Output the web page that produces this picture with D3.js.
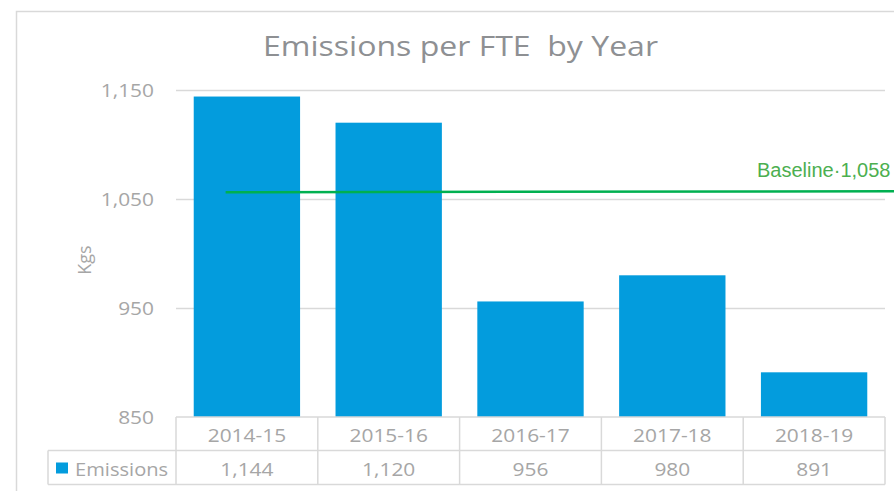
<!DOCTYPE html>
<html>
<head>
<meta charset="utf-8">
<script src="https://cdn.jsdelivr.net/npm/d3@7"></script>
<style>
  body { margin: 0; background: #fff; }
  svg { display: block; }
</style>
</head>
<body>
<svg id="chart" width="894" height="491"></svg>
<script>
// data
var years = ["2014-15", "2015-16", "2016-17", "2017-18", "2018-19"];
var emissions = [1144, 1120, 956, 980, 891];
var baseline = 1058;
var yTicks = [850, 950, 1050, 1150];

var svg = d3.select("#chart"),
    width = +svg.attr("width"),
    height = +svg.attr("height"),
    margin = {top: 90, right: 9, left: 176},
    plotBottom = 417;

var grey = "#a6a6a6",
    lineGrey = "#d9d9d9",
    font = "'Open Sans', 'Noto Sans', sans-serif",
    stretch = 1.1; // the original text is a bit wide

var fmt = d3.format(",");

var x = d3.scaleBand()
    .domain(years)
    .range([margin.left, width - margin.right])
    .paddingInner(0.25)
    .paddingOuter(0.125);

var y = d3.scaleLinear()
    .domain([850, 1150])
    .range([plotBottom, margin.top]);

// outer chart border (runs off the right/bottom edge)
svg.append("rect")
    .attr("x", 16.5).attr("y", 11.5)
    .attr("width", width + 10).attr("height", height + 10)
    .attr("fill", "none")
    .attr("stroke", lineGrey)
    .attr("stroke-width", 1.5);

// title
svg.append("text")
    .attr("x", 263).attr("y", 56)
    .attr("font-family", font)
    .attr("font-size", 28)
    .attr("fill", "#8e9093")
    .attr("xml:space", "preserve")
    .attr("textLength", 395)
    .attr("lengthAdjust", "spacingAndGlyphs")
    .text("Emissions per FTE  by Year");

// y axis - gridlines + labels
var yAxis = svg.append("g")
    .attr("transform", "translate(" + margin.left + ",0)")
    .call(d3.axisLeft(y)
      .tickValues(yTicks)
      .tickFormat(fmt)
      .tickSize(-(width - margin.right - margin.left))
      .tickPadding(23));

yAxis.select(".domain").remove();
yAxis.selectAll(".tick line")
    .attr("stroke", lineGrey)
    .attr("stroke-width", 1.5);
yAxis.selectAll(".tick text")
    .attr("x", null)
    .attr("transform", "translate(-22,0) scale(" + stretch + ",1)")
    .attr("font-family", font)
    .attr("font-size", 19)
    .attr("fill", grey);
// bottom tick sits on the table line, no gridline needed
yAxis.selectAll(".tick").filter(function(d) { return d === 850; }).select("line").remove();

svg.append("text")
    .attr("transform", "translate(91,260) rotate(-90)")
    .attr("text-anchor", "middle")
    .attr("font-family", font)
    .attr("font-size", 18)
    .attr("fill", grey)
    .text("Kgs");

// bars
svg.append("g")
  .selectAll("rect")
  .data(emissions)
  .enter().append("rect")
    .attr("x", function(d, i) { return x(years[i]); })
    .attr("y", function(d) { return y(d); })
    .attr("width", x.bandwidth())
    .attr("height", function(d) { return y(850) - y(d); })
    .attr("fill", "#039cdd");

// baseline
svg.append("line")
    .attr("x1", x(years[0]) + x.bandwidth() * 0.3)
    .attr("x2", width)
    .attr("y1", y(baseline) + 2)
    .attr("y2", y(baseline) + 1)
    .attr("stroke", "#00b050")
    .attr("stroke-width", 2.5);

svg.append("text")
    .attr("x", 757).attr("y", y(baseline) - 13)
    .attr("font-family", "'Liberation Sans', Arial, sans-serif")
    .attr("font-size", 20)
    .attr("fill", "#4caf50")
    .text("Baseline\u00b7" + fmt(baseline));

// data table
var half = (x.step() - x.bandwidth()) / 2,
    edges = years.map(function(d) { return x(d) - half; });
edges.push(x.range()[1]);

var row1 = plotBottom + 33.5,
    row2 = row1 + 34,
    legendLeft = 48;

var tbl = svg.append("g")
    .attr("stroke", lineGrey)
    .attr("stroke-width", 1.5)
    .attr("fill", "none");

tbl.append("line")
    .attr("x1", margin.left).attr("x2", x.range()[1])
    .attr("y1", plotBottom).attr("y2", plotBottom);
tbl.append("line")
    .attr("x1", legendLeft).attr("x2", x.range()[1])
    .attr("y1", row1).attr("y2", row1);
tbl.append("line")
    .attr("x1", legendLeft).attr("x2", x.range()[1])
    .attr("y1", row2).attr("y2", row2);
tbl.append("line")
    .attr("x1", legendLeft).attr("x2", legendLeft)
    .attr("y1", row1).attr("y2", row2);
tbl.selectAll(".vline")
  .data(edges)
  .enter().append("line")
    .attr("x1", function(d) { return d; })
    .attr("x2", function(d) { return d; })
    .attr("y1", plotBottom)
    .attr("y2", row2);

function cell(g, data, rowY, label) {
  g.selectAll("text")
    .data(data)
    .enter().append("text")
      .attr("transform", function(d, i) {
        return "translate(" + (x(years[i]) + x.bandwidth() / 2) + "," + (rowY - 9) + ") scale(" + stretch + ",1)";
      })
      .attr("text-anchor", "middle")
      .attr("font-family", font)
      .attr("font-size", 19)
      .attr("fill", grey)
      .text(label);
}

cell(svg.append("g"), years, row1, function(d) { return d; });
cell(svg.append("g"), emissions, row2, fmt);

// legend key in table
svg.append("rect")
    .attr("x", 56).attr("y", row1 + 12)
    .attr("width", 12).attr("height", 11)
    .attr("fill", "#039cdd");
svg.append("text")
    .attr("transform", "translate(75," + (row2 - 9) + ") scale(1.06,1)")
    .attr("font-family", font)
    .attr("font-size", 19)
    .attr("fill", grey)
    .text("Emissions");
</script>
</body>
</html>
